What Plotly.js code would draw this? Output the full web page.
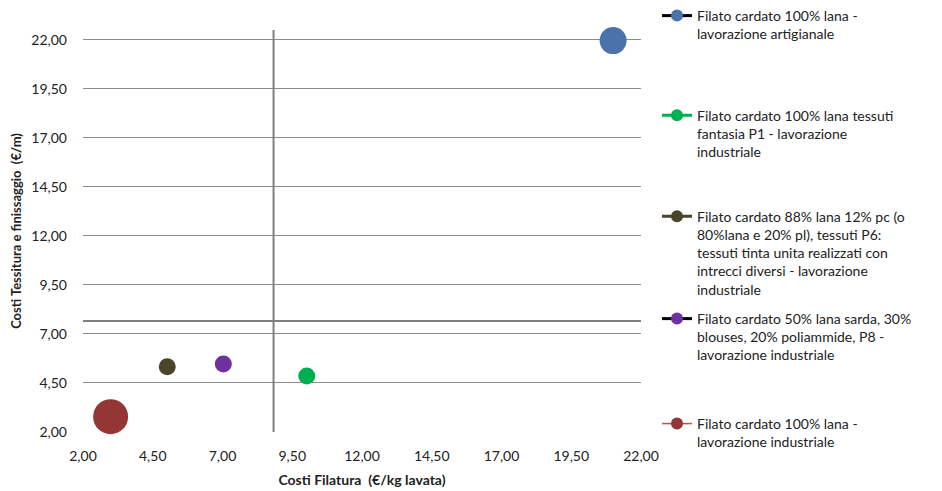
<!DOCTYPE html>
<html>
<head>
<meta charset="utf-8">
<script src="https://cdn.plot.ly/plotly-3.0.1.min.js"></script>
<style>html,body{margin:0;padding:0;background:#fff;}#chart{width:942px;height:491px;}</style>
</head>
<body>
<div id="chart"></div>
<script>
// ---- data ----
const seriesNames = [
  "Filato cardato 100% lana -<br>lavorazione artigianale",
  "Filato cardato 100% lana tessuti<br>fantasia P1 - lavorazione<br>industriale",
  "Filato cardato 88% lana 12% pc (o<br>80%lana e 20% pl), tessuti P6:<br>tessuti tinta unita realizzati con<br>intrecci diversi - lavorazione<br>industriale",
  "Filato cardato 50% lana sarda, 30%<br>blouses, 20% poliammide, P8 -<br>lavorazione industriale",
  "Filato cardato 100% lana -<br>lavorazione industriale"
];
const costiFilatura = [21.0, 10.02, 5.02, 7.03, 2.99];
const costiTessitura = [21.96, 4.86, 5.33, 5.47, 2.78];
const bubbleSize = [27, 17, 17, 17, 35];
const refFilatura = 8.83;
const refTessitura = 7.66;
const tickVals = [2, 4.5, 7, 9.5, 12, 14.5, 17, 19.5, 22];

// ---- styles ----
const markerColors = ["#4a73ab", "#00b050", "#4a4429", "#7030a0", "#943634"];
const legendLineColors = ["#000000", "#00b050", "#4a4429", "#000000", "#c0504d"];
const legendLineWidths = [3, 3, 3, 3, 1.5];
const legendTextY = [12.7, 115.7, 216.7, 319, 424];
const FONT = "Lato, 'Open Sans', sans-serif";

const legendKey = i => (i === 0 ? "legend" : "legend" + (i + 1));

// bubbles (data)
const bubbleTraces = seriesNames.map((name, i) => ({
  type: "scatter",
  mode: "markers",
  name: name,
  x: [costiFilatura[i]],
  y: [costiTessitura[i]],
  cliponaxis: false,
  showlegend: false,
  legendgroup: "g" + i,
  marker: {color: markerColors[i], size: [bubbleSize[i]], opacity: 1, line: {width: 0}},
  hoverinfo: "x+y+name"
}));

// legend entries (line + marker symbol, like the original)
const legendTraces = seriesNames.map((name, i) => ({
  type: "scatter",
  mode: "lines+markers",
  name: name,
  x: [null],
  y: [null],
  legendgroup: "g" + i,
  line: {color: legendLineColors[i], width: legendLineWidths[i]},
  marker: {color: markerColors[i], size: 12, line: {width: 0}},
  legend: legendKey(i),
  hoverinfo: "skip"
}));

const layout = {
  width: 942, height: 491,
  margin: {l: 83, r: 301, t: 30, b: 59},
  paper_bgcolor: "#fff", plot_bgcolor: "#fff",
  font: {family: FONT, size: 13, color: "#222"},
  separators: ",.",
  showlegend: true,
  xaxis: {
    range: [2, 22], tickvals: tickVals, tickformat: ".2f",
    showgrid: false, zeroline: false, showline: false, ticks: "",
    ticklabelstandoff: 14,
    tickfont: {size: 14, color: "#222"},
    title: {text: "<b>Costi Filatura  (€/kg lavata)</b>", font: {size: 14, color: "#222"}, standoff: 12}
  },
  yaxis: {
    range: [2, 22.5], tickvals: tickVals, tickformat: ".2f",
    showgrid: true, gridcolor: "#8c8c8c", gridwidth: 1,
    zeroline: false, showline: false, ticks: "", ticklabelstandoff: 15,
    tickfont: {size: 14, color: "#222"},
    title: {text: "<b>Costi Tessitura e finissaggio  (€/m)</b>", font: {size: 13, color: "#222"}, standoff: 6}
  },
  shapes: [
    {type: "line", xref: "x", yref: "paper", x0: refFilatura, x1: refFilatura, y0: 0, y1: 1,
     line: {color: "#7f7f7f", width: 2}},
    {type: "line", xref: "paper", yref: "y", x0: 0, x1: 1, y0: refTessitura, y1: refTessitura,
     line: {color: "#7f7f7f", width: 2}}
  ]
};

legendTextY.forEach((ty, i) => {
  layout[legendKey(i)] = {
    xref: "container", yref: "container",
    x: 657 / 942, y: 1 - (ty - 16) / 491,
    xanchor: "left", yanchor: "top",
    bgcolor: "rgba(0,0,0,0)",
    itemsizing: "trace", valign: "top",
    font: {family: FONT, size: 14, color: "#222"},
    tracegroupgap: 0
  };
});

Plotly.newPlot("chart", bubbleTraces.concat(legendTraces), layout, {displayModeBar: false, responsive: false});
</script>
</body>
</html>
